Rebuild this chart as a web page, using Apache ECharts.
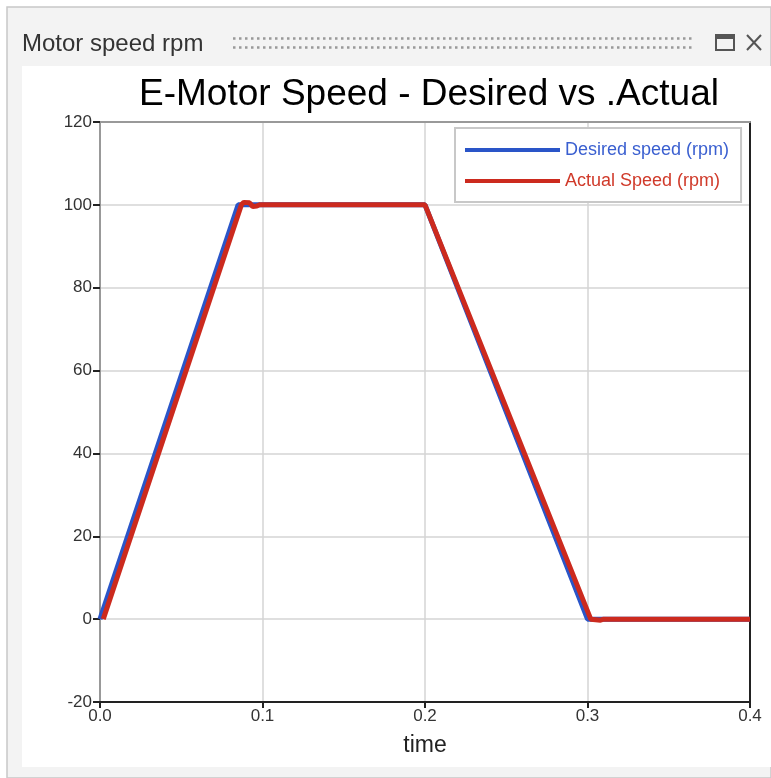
<!DOCTYPE html>
<html>
<head>
<meta charset="utf-8">
<script src="https://cdn.jsdelivr.net/npm/echarts@6/dist/echarts.min.js"></script>
<style>
html,body{margin:0;padding:0;background:#fff;}
#chart{width:771px;height:778px;}
</style>
</head>
<body>
<div id="chart"></div>
<script>
// ---- data ----
var desiredSpeed = [[0, 0], [0.085, 100], [0.2, 100], [0.3, 0], [0.4, 0]];
var actualSpeed = [[0.002, 0], [0.087, 100], [0.0885, 100.6], [0.092, 100.5], [0.094, 99.6], [0.0965, 99.7], [0.098, 100], [0.2, 100], [0.302, 0], [0.303, -0.3], [0.308, -0.25], [0.31, 0], [0.4, 0]];
var seriesNames = ['Desired speed (rpm)', 'Actual Speed (rpm)'];
var titleText = 'E-Motor Speed - Desired vs .Actual';
var panelTitle = 'Motor speed rpm';
var xAxisName = 'time';

var chart = echarts.init(document.getElementById('chart'));
var font = 'Liberation Sans, Arial, sans-serif';

var graphics = [
  {type: 'rect', shape: {x: 7, y: 7, width: 764, height: 771}, style: {fill: '#f3f3f3', stroke: '#c8c8c8', lineWidth: 1.5}, z: -10, silent: true},
  {type: 'rect', shape: {x: 22, y: 66, width: 749, height: 701}, style: {fill: '#ffffff'}, z: -9, silent: true},
  {type: 'text', left: 22, top: 32, style: {text: panelTitle, font: '24px ' + font, fill: '#333'}, silent: true},
  {type: 'line', shape: {x1: 233, y1: 38.5, x2: 692, y2: 38.5}, style: {stroke: '#999', lineWidth: 2.5, lineDash: [2.5, 3.5]}, silent: true},
  {type: 'line', shape: {x1: 233, y1: 47.5, x2: 692, y2: 47.5}, style: {stroke: '#999', lineWidth: 2.5, lineDash: [2.5, 3.5]}, silent: true},
  {type: 'rect', shape: {x: 716, y: 35, width: 18, height: 15}, style: {fill: 'none', stroke: '#555', lineWidth: 2}, silent: true},
  {type: 'rect', shape: {x: 716, y: 35, width: 18, height: 4}, style: {fill: '#555'}, silent: true},
  {type: 'line', shape: {x1: 747, y1: 35, x2: 761, y2: 50}, style: {stroke: '#555', lineWidth: 2}, silent: true},
  {type: 'line', shape: {x1: 761, y1: 35, x2: 747, y2: 50}, style: {stroke: '#555', lineWidth: 2}, silent: true}
];

var option = {
  animation: false,
  backgroundColor: 'transparent',
  graphic: graphics,
  title: {
    text: titleText,
    left: 424, top: 71, textAlign: 'center',
    textStyle: {fontFamily: font, fontSize: 37, fontWeight: 'normal', color: '#000'}
  },
  legend: {
    orient: 'vertical',
    left: 455, top: 128,
    width: 290,
    padding: [13, 12, 12, 10],
    backgroundColor: '#fff',
    borderColor: '#c8c8c8', borderWidth: 2,
    itemWidth: 95, itemHeight: 4, itemGap: 13,
    icon: 'rect',
    data: [
      {name: seriesNames[0], textStyle: {color: '#3a5fd0'}},
      {name: seriesNames[1], textStyle: {color: '#d03a2a'}}
    ],
    textStyle: {fontFamily: font, fontSize: 18}
  },
  grid: {left: 100, right: 21, top: 122, bottom: 76, containLabel: false},
  xAxis: [{
    type: 'value', min: 0, max: 0.4, interval: 0.1,
    name: xAxisName, nameLocation: 'middle', nameGap: 32,
    nameTextStyle: {fontFamily: font, fontSize: 23, color: '#222'},
    axisLine: {show: true, onZero: false, lineStyle: {color: '#222', width: 2}},
    axisTick: {show: true, length: 6, lineStyle: {color: '#222', width: 2}},
    axisLabel: {fontFamily: font, fontSize: 17, color: '#333', margin: 6, formatter: function (v) { return v.toFixed(1); }},
    splitLine: {show: true, lineStyle: {color: '#d4d4d4', width: 1.5}}
  }, {
    type: 'value', position: 'top', min: 0, max: 0.4, interval: 0.1,
    axisLine: {show: true, onZero: false, lineStyle: {color: '#999', width: 2}},
    axisTick: {show: false}, axisLabel: {show: false}, splitLine: {show: false}
  }],
  yAxis: [{
    type: 'value', min: -20, max: 120, interval: 20,
    axisLine: {show: true, onZero: false, lineStyle: {color: '#999', width: 2}},
    axisTick: {show: true, length: 7, lineStyle: {color: '#222', width: 2}},
    axisLabel: {fontFamily: font, fontSize: 17, color: '#333', margin: 8},
    splitLine: {show: true, lineStyle: {color: '#d4d4d4', width: 1.5}}
  }, {
    type: 'value', position: 'right', min: -20, max: 120, interval: 20,
    axisLine: {show: true, onZero: false, lineStyle: {color: '#222', width: 2}},
    axisTick: {show: false}, axisLabel: {show: false}, splitLine: {show: false}
  }],
  series: [
    {name: seriesNames[0], type: 'line', data: desiredSpeed, showSymbol: false, symbol: 'none',
      lineStyle: {color: '#2a55c8', width: 5}, itemStyle: {color: '#2a55c8'}, z: 2},
    {name: seriesNames[1], type: 'line', data: actualSpeed, showSymbol: false, symbol: 'none',
      lineStyle: {color: '#cc2a1e', width: 5}, itemStyle: {color: '#cc2a1e'}, z: 3}
  ]
};
chart.setOption(option);
</script>
</body>
</html>
